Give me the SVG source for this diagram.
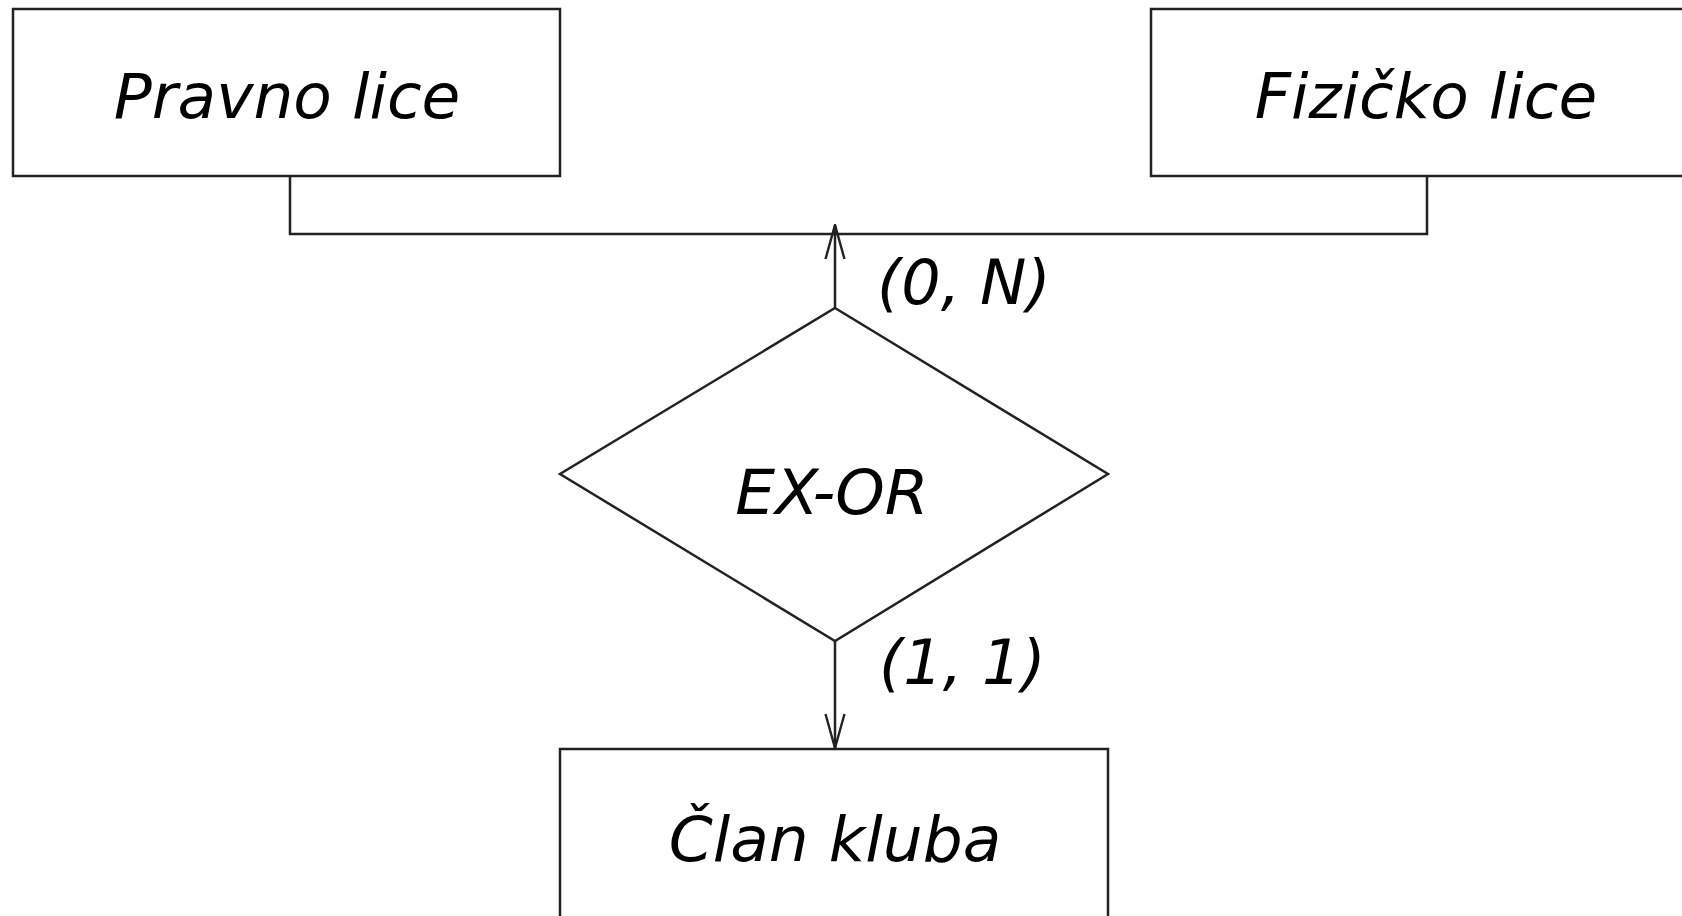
<svg xmlns="http://www.w3.org/2000/svg" width="1682" height="916" viewBox="0 0 1682 916">
<defs>
<style>
.box{fill:#fff;stroke:#222;stroke-width:2.5}
.ln{fill:none;stroke:#222;stroke-width:2.5}
.t{font-family:"DejaVu Sans","Open Sans",sans-serif;font-style:oblique;fill:#000}
.big{font-size:63px}
.lab{font-size:62px}
</style>
<marker id="arr" viewBox="0 0 36 22" refX="35" refY="11" markerWidth="36" markerHeight="22" markerUnits="userSpaceOnUse" orient="auto">
<path d="M1,1.5 L35,11 L1,20.5" fill="none" stroke="#222" stroke-width="2.4"/>
</marker>
</defs>
<rect width="1682" height="916" fill="#fff"/>
<g id="connectors">
<polyline class="ln" points="290,176 290,234 1427,234 1427,176"/>
<line class="ln" x1="835" y1="308" x2="835" y2="225" marker-end="url(#arr)"/>
<line class="ln" x1="835" y1="641" x2="835" y2="748" marker-end="url(#arr)"/>
<text class="t lab" x="877" y="304">(0, N)</text>
<text class="t lab" x="879" y="684">(1, 1)</text>
</g>
<g id="pravno">
<rect class="box" x="13" y="9" width="547" height="167"/>
<text class="t big" x="287" y="118" text-anchor="middle">Pravno lice</text>
</g>
<g id="fizicko">
<rect class="box" x="1151" y="9" width="560" height="167"/>
<text class="t big" x="1426" y="118" text-anchor="middle">Fizičko lice</text>
</g>
<g id="exor">
<polygon class="box" points="835,308 1108,474 835,641 560,474"/>
<text class="t big" x="832" y="514" text-anchor="middle">EX-OR</text>
</g>
<g id="clan">
<rect class="box" x="560" y="749" width="548" height="180"/>
<text class="t big" x="835" y="861" text-anchor="middle">Član kluba</text>
</g>
</svg>
